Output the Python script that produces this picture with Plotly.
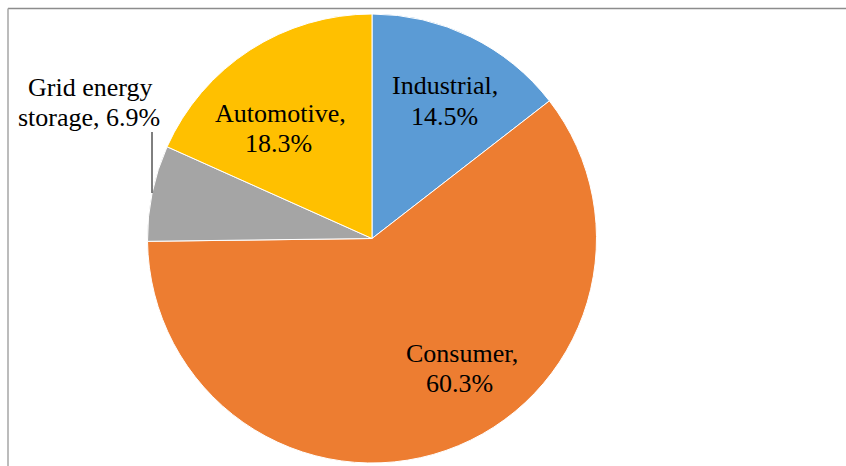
import plotly.graph_objects as go

# Battery demand share by application
categories = ["Industrial", "Consumer", "Grid energy storage", "Automotive"]
shares = [14.5, 60.3, 6.9, 18.3]
colors = ["#5B9BD5", "#ED7D31", "#A5A5A5", "#FFC000"]

W, H = 846, 466
FONT = "Liberation Serif, Times New Roman, serif"

# pixel geometry of the pie
CX, CY, R = 372, 238.5, 224.5

# label placement (pixel centres of each text line: name line, value line)
label_pos = {
    "Industrial": [(444.5, 86), (444, 116)],
    "Consumer": [(461.5, 353.5), (459.7, 383.5)],
    "Grid energy storage": [(90, 87), (88.7, 117)],
    "Automotive": [(280, 113.5), (278, 143.5)],
}
# split outside label lines
label_lines = {
    "Grid energy storage": ("Grid energy", "storage, {v}%"),
}
leader = [(152, 132), (152, 193)]


def px(x):
    return x / W


def py(y):
    return 1 - y / H


fig = go.Figure(
    go.Pie(
        labels=categories,
        values=shares,
        sort=False,
        direction="clockwise",
        rotation=0,
        marker=dict(colors=colors, line=dict(color="white", width=1)),
        textinfo="none",
        hoverinfo="label+percent",
        domain=dict(x=[px(CX - R), px(CX + R)], y=[py(CY + R), py(CY - R)]),
        showlegend=False,
    )
)

annotations = []
for cat, val in zip(categories, shares):
    if cat in label_lines:
        l1, l2 = label_lines[cat]
        lines = [l1, l2.format(v=val)]
    else:
        lines = [f"{cat},", f"{val}%"]
    for (x, y), txt in zip(label_pos[cat], lines):
        annotations.append(
            dict(
                x=px(x), y=py(y), xref="paper", yref="paper",
                text=txt, showarrow=False,
                xanchor="center", yanchor="middle",
                font=dict(family=FONT, size=26, color="black"),
            )
        )

shapes = [
    # leader line for the outside label
    dict(type="line", xref="paper", yref="paper",
         x0=px(leader[0][0]), y0=py(leader[0][1]),
         x1=px(leader[1][0]), y1=py(leader[1][1]),
         line=dict(color="black", width=1)),
    # chart frame (top and left edges)
    dict(type="line", xref="paper", yref="paper",
         x0=px(8), y0=py(8.5), x1=1, y1=py(8.5),
         line=dict(color="#8c8c8c", width=1.5)),
    dict(type="line", xref="paper", yref="paper",
         x0=px(8), y0=py(8.5), x1=px(8), y1=0,
         line=dict(color="#a6a6a6", width=1.5)),
]

fig.update_layout(
    width=W, height=H,
    margin=dict(l=0, r=0, t=0, b=0),
    paper_bgcolor="white",
    plot_bgcolor="white",
    annotations=annotations,
    shapes=shapes,
)

fig.write_html("out.html")
